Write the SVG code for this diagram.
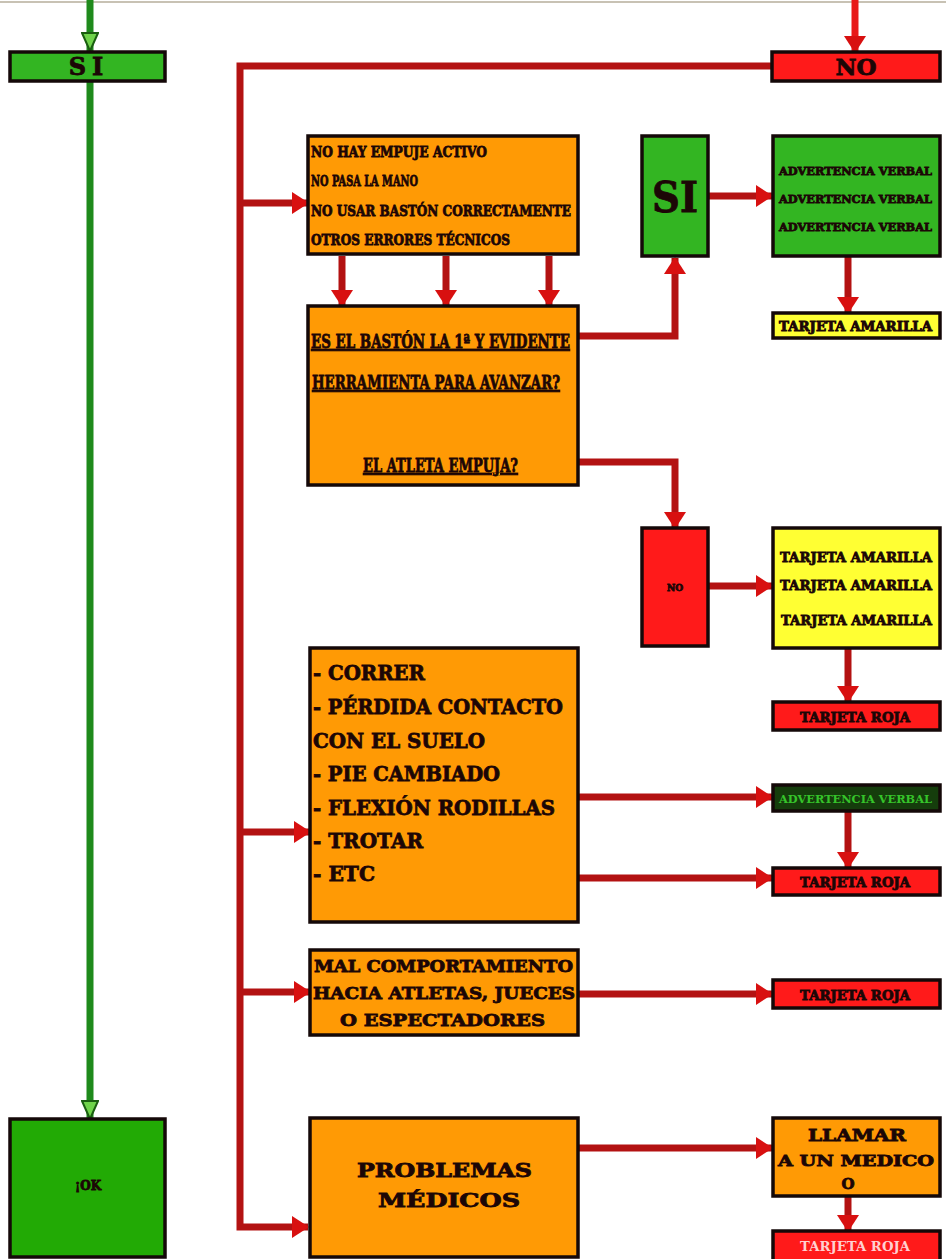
<svg xmlns="http://www.w3.org/2000/svg" width="946" height="1259" viewBox="0 0 946 1259">
<style>
.box{stroke:#140808;stroke-width:3.5}
.or{fill:#ff9a05}
.gr{fill:#33b522}
.rd{fill:#ff1a1a}
.ye{fill:#ffff33}
.dg{fill:#153d0c}
.t{font-family:"DejaVu Serif","Liberation Serif",serif;font-weight:bold;fill:#1c0606;stroke:#1c0606;stroke-width:0.8}
.u{text-decoration:underline}
.c{text-anchor:middle}
.rl{fill:none;stroke:#b31212;stroke-width:7}
.gl{fill:none;stroke:#1f8a1c;stroke-width:7}
</style>
<defs>
<marker id="ra" viewBox="0 0 17 22" markerWidth="17" markerHeight="22" refX="16" refY="11" orient="auto" markerUnits="userSpaceOnUse">
<path d="M0,0 L17,11 L0,22 Z" fill="#d81010"/>
</marker>
<marker id="ga" viewBox="0 0 20 18" markerWidth="20" markerHeight="18" refX="19" refY="9" orient="auto" markerUnits="userSpaceOnUse">
<path d="M1,1 L19,9 L1,17 Z" fill="#6fd44a" stroke="#1a5e10" stroke-width="2"/>
</marker>
</defs>
<rect width="946" height="1259" fill="#ffffff"/>
<line x1="0" y1="2" x2="946" y2="2" stroke="#c8c2b4" stroke-width="2"/>

<g id="connectors">
<line class="gl" x1="90" y1="0" x2="90" y2="51" marker-end="url(#ga)"/>
<line class="gl" x1="90" y1="80" x2="90" y2="1119" marker-end="url(#ga)"/>
<line class="rl" x1="855" y1="0" x2="855" y2="52" marker-end="url(#ra)" style="stroke:#e81818"/>
<polyline class="rl" points="772,66 240,66 240,1227 308,1227" marker-end="url(#ra)"/>
<line class="rl" x1="240" y1="203" x2="308" y2="203" marker-end="url(#ra)"/>
<line class="rl" x1="240" y1="832" x2="310" y2="832" marker-end="url(#ra)"/>
<line class="rl" x1="240" y1="992" x2="310" y2="992" marker-end="url(#ra)"/>
<line class="rl" x1="342" y1="256" x2="342" y2="306" marker-end="url(#ra)"/>
<line class="rl" x1="446" y1="256" x2="446" y2="306" marker-end="url(#ra)"/>
<line class="rl" x1="549" y1="256" x2="549" y2="306" marker-end="url(#ra)"/>
<polyline class="rl" points="578,336 675,336 675,258" marker-end="url(#ra)"/>
<line class="rl" x1="708" y1="196" x2="772" y2="196" marker-end="url(#ra)"/>
<line class="rl" x1="848" y1="256" x2="848" y2="313" marker-end="url(#ra)"/>
<polyline class="rl" points="578,462 675,462 675,528" marker-end="url(#ra)"/>
<line class="rl" x1="708" y1="586" x2="772" y2="586" marker-end="url(#ra)"/>
<line class="rl" x1="848" y1="648" x2="848" y2="702" marker-end="url(#ra)"/>
<line class="rl" x1="578" y1="797" x2="772" y2="797" marker-end="url(#ra)"/>
<line class="rl" x1="848" y1="811" x2="848" y2="868" marker-end="url(#ra)"/>
<line class="rl" x1="578" y1="878" x2="772" y2="878" marker-end="url(#ra)"/>
<line class="rl" x1="578" y1="994" x2="772" y2="994" marker-end="url(#ra)"/>
<line class="rl" x1="578" y1="1148" x2="772" y2="1148" marker-end="url(#ra)"/>
<line class="rl" x1="848" y1="1196" x2="848" y2="1231" marker-end="url(#ra)"/>
</g>

<g id="si-top">
<rect class="box gr" x="10" y="52" width="155" height="29"/>
<text class="t c" x="89" y="75" font-size="24" letter-spacing="6">SI</text>
</g>

<g id="no-top">
<rect class="box rd" x="772" y="52" width="168" height="29"/>
<text class="t c" x="856" y="75" font-size="23">NO</text>
</g>

<g id="ok">
<rect class="box gr" x="10" y="1119" width="155" height="138" style="fill:#22aa05"/>
<text class="t c" x="88" y="1190" font-size="12">¡OK</text>
</g>

<g id="errores">
<rect class="box or" x="308" y="136" width="270" height="118"/>
<text class="t" x="311" y="157" font-size="15" textLength="176" lengthAdjust="spacingAndGlyphs">NO HAY EMPUJE ACTIVO</text>
<text class="t" x="311" y="186" font-size="15" textLength="107" lengthAdjust="spacingAndGlyphs">NO PASA LA MANO</text>
<text class="t" x="311" y="216" font-size="15" textLength="260" lengthAdjust="spacingAndGlyphs">NO USAR BASTÓN CORRECTAMENTE</text>
<text class="t" x="311" y="245" font-size="15" textLength="199" lengthAdjust="spacingAndGlyphs">OTROS ERRORES TÉCNICOS</text>
</g>

<g id="baston">
<rect class="box or" x="308" y="306" width="270" height="179"/>
<text class="t u" x="311" y="348" font-size="19" textLength="259" lengthAdjust="spacingAndGlyphs">ES EL BASTÓN LA 1ª Y EVIDENTE</text>
<text class="t u" x="312" y="389" font-size="19" textLength="248" lengthAdjust="spacingAndGlyphs">HERRAMIENTA PARA AVANZAR?</text>
<text class="t u" x="363" y="472" font-size="19" textLength="155" lengthAdjust="spacingAndGlyphs">EL ATLETA EMPUJA?</text>
</g>

<g id="si-mid">
<rect class="box gr" x="642" y="136" width="66" height="120"/>
<text class="t c" x="675" y="212" font-size="42" textLength="46" lengthAdjust="spacingAndGlyphs">SI</text>
</g>

<g id="advertencia-1">
<rect class="box gr" x="773" y="136" width="167" height="120"/>
<text class="t" x="779" y="175" font-size="11.5" textLength="153" lengthAdjust="spacingAndGlyphs">ADVERTENCIA VERBAL</text>
<text class="t" x="779" y="203" font-size="11.5" textLength="153" lengthAdjust="spacingAndGlyphs">ADVERTENCIA VERBAL</text>
<text class="t" x="779" y="231" font-size="11.5" textLength="153" lengthAdjust="spacingAndGlyphs">ADVERTENCIA VERBAL</text>
</g>

<g id="amarilla-1">
<rect class="box ye" x="773" y="313" width="167" height="25"/>
<text class="t" x="779" y="331" font-size="12" textLength="153" lengthAdjust="spacingAndGlyphs">TARJETA AMARILLA</text>
</g>

<g id="no-mid">
<rect class="box rd" x="642" y="528" width="66" height="118"/>
<text class="t c" x="675" y="591" font-size="9">NO</text>
</g>

<g id="amarilla-3">
<rect class="box ye" x="773" y="528" width="167" height="120"/>
<text class="t" x="780" y="562" font-size="13.5" textLength="152" lengthAdjust="spacingAndGlyphs">TARJETA AMARILLA</text>
<text class="t" x="780" y="590" font-size="13.5" textLength="152" lengthAdjust="spacingAndGlyphs">TARJETA AMARILLA</text>
<text class="t" x="781" y="625" font-size="13.5" textLength="151" lengthAdjust="spacingAndGlyphs">TARJETA AMARILLA</text>
</g>

<g id="roja-1">
<rect class="box rd" x="773" y="702" width="167" height="28"/>
<text class="t" x="800" y="722" font-size="13" textLength="110" lengthAdjust="spacingAndGlyphs">TARJETA ROJA</text>
</g>

<g id="tecnica">
<rect class="box or" x="310" y="648" width="268" height="274"/>
<text class="t" x="313" y="680" font-size="21" textLength="112" lengthAdjust="spacingAndGlyphs">- CORRER</text>
<text class="t" x="313" y="714" font-size="21" textLength="250" lengthAdjust="spacingAndGlyphs">- PÉRDIDA CONTACTO</text>
<text class="t" x="313" y="748" font-size="21" textLength="172" lengthAdjust="spacingAndGlyphs">CON EL SUELO</text>
<text class="t" x="313" y="781" font-size="21" textLength="187" lengthAdjust="spacingAndGlyphs">- PIE CAMBIADO</text>
<text class="t" x="313" y="815" font-size="21" textLength="242" lengthAdjust="spacingAndGlyphs">- FLEXIÓN RODILLAS</text>
<text class="t" x="313" y="848" font-size="21" textLength="110" lengthAdjust="spacingAndGlyphs">- TROTAR</text>
<text class="t" x="313" y="881" font-size="21" textLength="62" lengthAdjust="spacingAndGlyphs">- ETC</text>
</g>

<g id="advertencia-2">
<rect class="box dg" x="773" y="785" width="167" height="26"/>
<text x="779" y="803" font-size="11.5" textLength="153" lengthAdjust="spacingAndGlyphs" font-family="DejaVu Serif, serif" font-weight="bold" fill="#35c42a">ADVERTENCIA VERBAL</text>
</g>

<g id="roja-2">
<rect class="box rd" x="773" y="868" width="167" height="27"/>
<text class="t" x="800" y="887" font-size="13" textLength="110" lengthAdjust="spacingAndGlyphs">TARJETA ROJA</text>
</g>

<g id="comportamiento">
<rect class="box or" x="310" y="950" width="268" height="85"/>
<text class="t" x="314" y="972" font-size="17" textLength="259" lengthAdjust="spacingAndGlyphs">MAL COMPORTAMIENTO</text>
<text class="t" x="313" y="999" font-size="17" textLength="262" lengthAdjust="spacingAndGlyphs">HACIA ATLETAS, JUECES</text>
<text class="t" x="340" y="1026" font-size="17" textLength="205" lengthAdjust="spacingAndGlyphs">O ESPECTADORES</text>
</g>

<g id="roja-3">
<rect class="box rd" x="773" y="980" width="167" height="28"/>
<text class="t" x="800" y="1000" font-size="13" textLength="110" lengthAdjust="spacingAndGlyphs">TARJETA ROJA</text>
</g>

<g id="medicos">
<rect class="box or" x="310" y="1118" width="268" height="139"/>
<text class="t" x="357" y="1177" font-size="19" textLength="175" lengthAdjust="spacingAndGlyphs">PROBLEMAS</text>
<text class="t" x="378" y="1207" font-size="19" textLength="142" lengthAdjust="spacingAndGlyphs">MÉDICOS</text>
</g>

<g id="llamar">
<rect class="box or" x="773" y="1118" width="167" height="78"/>
<text class="t" x="808" y="1141" font-size="16" textLength="98" lengthAdjust="spacingAndGlyphs">LLAMAR</text>
<text class="t" x="778" y="1166" font-size="14.5" textLength="156" lengthAdjust="spacingAndGlyphs">A UN MEDICO</text>
<text class="t c" x="848" y="1189" font-size="15">O</text>
</g>

<g id="roja-4">
<rect class="box rd" x="773" y="1231" width="167" height="30"/>
<text x="800" y="1251" font-size="13" textLength="110" lengthAdjust="spacingAndGlyphs" font-family="DejaVu Serif, serif" font-weight="bold" fill="#ffd0d0">TARJETA ROJA</text>
</g>
</svg>
